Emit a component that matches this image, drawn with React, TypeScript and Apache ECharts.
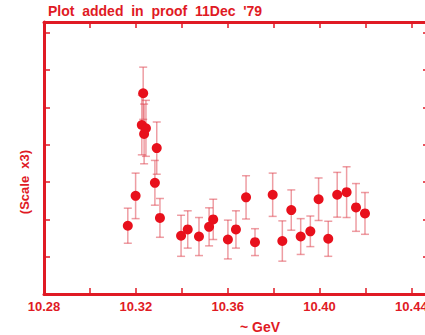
import React, { useEffect, useRef } from "react";
import * as echarts from "echarts";

const energies = [
  10.3165, 10.3199, 10.3226, 10.3232, 10.3236, 10.3244, 10.3291, 10.3283, 10.3305,
  10.3397, 10.3426, 10.3475, 10.3519, 10.3537, 10.3601, 10.3636, 10.368, 10.3719,
  10.3796, 10.3838, 10.3877, 10.3918, 10.396, 10.3996, 10.4038, 10.4077, 10.4118,
  10.4159, 10.4198,
];
const values = [
  1.83, 2.63, 4.53, 5.38, 4.29, 4.44, 3.91, 2.98, 2.04,
  1.56, 1.73, 1.54, 1.8, 2.0, 1.46, 1.73, 2.59, 1.39,
  2.66, 1.42, 2.25, 1.54, 1.68, 2.54, 1.48, 2.66, 2.73,
  2.32, 2.16,
];
const errors = [
  0.47, 0.61, 0.8, 0.7, 0.8, 0.75, 0.7, 0.6, 0.52,
  0.55, 0.5, 0.51, 0.51, 0.54, 0.52, 0.5, 0.58, 0.36,
  0.58, 0.54, 0.54, 0.48, 0.41, 0.57, 0.47, 0.6, 0.68,
  0.64, 0.56,
];
const xLabels = ["10.28", "10.32", "10.36", "10.40", "10.44"];

const RED = "#e01a24";
const DOT = "#e8101c";
const BAR = "rgba(222,60,72,0.5)";

export default function App() {
  const ref = useRef<HTMLDivElement>(null);
  useEffect(() => {
    if (!ref.current) return;
    const chart = echarts.init(ref.current, undefined, { renderer: "svg" });
    const points = energies.map((e, i) => [e, values[i]]);
    const bars = energies.map((e, i) => [e, values[i] - errors[i], values[i] + errors[i]]);
    const axisLine = { show: true, onZero: false, lineStyle: { color: RED, width: 3 } };
    const tick = { show: true, inside: true, length: 6, lineStyle: { color: RED, width: 1.5 } };
    const xMax = 10.28 + 385 / 2296;
    chart.setOption({
      animation: false,
      backgroundColor: "#ffffff",
      grid: { left: 44, top: 22, width: 385, height: 272, containLabel: false },
      xAxis: [
        {
          type: "value",
          min: 10.28,
          max: xMax,
          interval: 0.02,
          axisLine,
          axisTick: tick,
          splitLine: { show: false },
          axisLabel: {
            color: RED,
            fontFamily: "Liberation Sans, Arial, sans-serif",
            fontWeight: "bold",
            fontSize: 13,
            margin: 6,
            showMaxLabel: false,
            formatter: (v: number) => {
              const s = v.toFixed(2);
              return xLabels.includes(s) ? s : "";
            },
          },
        },
        {
          type: "value",
          position: "top",
          min: 10.28,
          max: xMax,
          interval: 0.02,
          axisLine,
          axisTick: tick,
          splitLine: { show: false },
          axisLabel: { show: false },
        },
      ],
      yAxis: [
        {
          type: "value",
          min: 0,
          max: 7.29,
          interval: 1,
          axisLine,
          axisTick: tick,
          splitLine: { show: false },
          axisLabel: { show: false },
        },
        {
          type: "value",
          position: "right",
          min: 0,
          max: 7.29,
          interval: 1,
          axisLine,
          axisTick: tick,
          splitLine: { show: false },
          axisLabel: { show: false },
        },
      ],
      graphic: [
        {
          type: "text",
          left: 48,
          top: 4,
          style: {
            text: "Plot  added  in  proof  11Dec  '79",
            fill: RED,
            font: "bold 14px 'Liberation Sans', Arial, sans-serif",
          },
        },
        {
          type: "text",
          x: 260,
          y: 327,
          style: {
            text: "~ GeV",
            fill: RED,
            font: "bold 14px 'Liberation Sans', Arial, sans-serif",
            align: "center",
            verticalAlign: "middle",
          },
        },
        {
          type: "text",
          x: 24,
          y: 182,
          rotation: Math.PI / 2,
          style: {
            text: "(Scale  x3)",
            fill: RED,
            font: "bold 13px 'Liberation Sans', Arial, sans-serif",
            align: "center",
            verticalAlign: "middle",
          },
        },
      ],
      series: [
        {
          type: "custom",
          xAxisIndex: 0,
          yAxisIndex: 0,
          data: bars,
          encode: { x: 0, y: [1, 2] },
          renderItem: (params: any, api: any) => {
            const x = api.value(0);
            const lo = api.coord([x, api.value(1)]);
            const hi = api.coord([x, api.value(2)]);
            const w = 4;
            const style = { stroke: BAR, lineWidth: 1.5 };
            return {
              type: "group",
              children: [
                { type: "line", shape: { x1: hi[0], y1: hi[1], x2: lo[0], y2: lo[1] }, style },
                { type: "line", shape: { x1: hi[0] - w, y1: hi[1], x2: hi[0] + w, y2: hi[1] }, style },
                { type: "line", shape: { x1: lo[0] - w, y1: lo[1], x2: lo[0] + w, y2: lo[1] }, style },
              ],
            };
          },
          z: 2,
        },
        {
          type: "scatter",
          xAxisIndex: 0,
          yAxisIndex: 0,
          data: points,
          symbol: "circle",
          symbolSize: 10,
          itemStyle: { color: DOT, opacity: 1 },
          z: 3,
        },
      ],
    });
    return () => chart.dispose();
  }, []);
  return (
    <div
      ref={ref}
      style={{ position: "fixed", left: 0, top: 0, width: 440, height: 335, background: "#fff" }}
    />
  );
}
